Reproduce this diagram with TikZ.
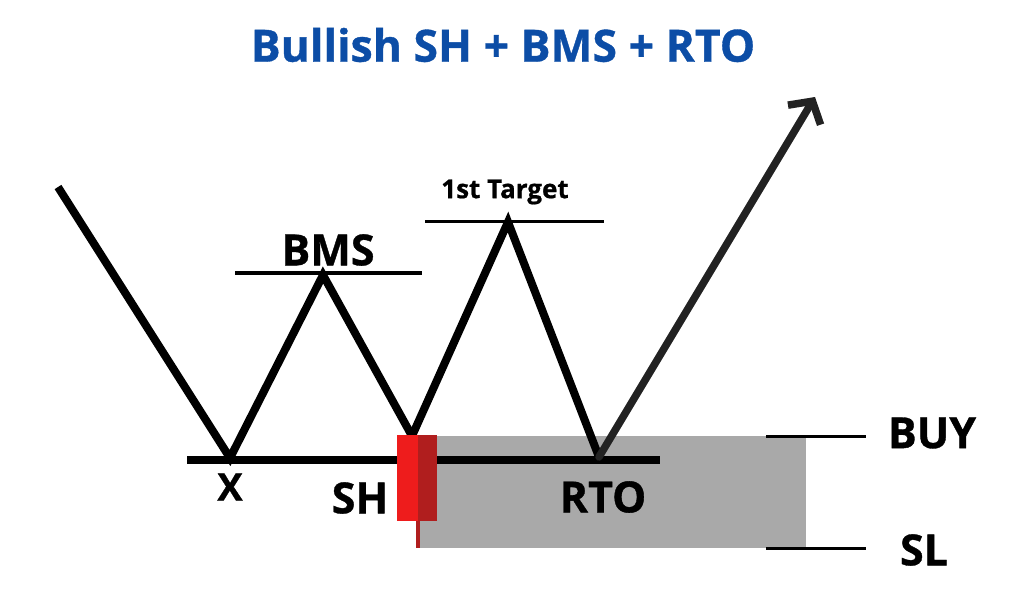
\documentclass[tikz,border=0pt]{standalone}
\usepackage{fontspec}
\setmainfont{Open Sans}[BoldFeatures={FakeBold=0.8}]
\usetikzlibrary{arrows.meta,positioning}
\definecolor{titleblue}{HTML}{0C4DA6}
\definecolor{zonegray}{HTML}{A9A9A9}
\definecolor{candlered}{HTML}{EE1C1C}
\definecolor{candledark}{HTML}{B01E1E}
\definecolor{arrowgray}{HTML}{222222}
\tikzset{zig/.style={draw, line width=8, line join=miter}}
\tikzset{level/.style={draw, line width=4}}
\tikzset{arr/.style={draw, arrowgray, line width=7.5, line cap=round, -{Straight Barb[length=16pt, width=38pt, line width=7.5pt]}}}
\tikzset{lbl/.style={font=\bfseries\fontsize{43}{43}\selectfont, inner sep=0}}

\begin{document}
\begin{tikzpicture}[x=1pt, y=-1pt]
		\useasboundingbox (0,0) rectangle (1024,614);
		\node[lbl, titleblue, font=\bfseries\fontsize{44.5}{44.5}\selectfont] (title) at (503,45){Bullish SH + BMS + RTO};
		
		% zone between buy and stop loss
		\fill[zonegray] (418,436) rectangle (806,548);
		\coordinate (buyL) at (766,436);
		\coordinate (buyR) at (866,436);
		\coordinate (slL) at (766,548);
		\coordinate (slR) at (866,548);
		\draw[level, line width=3] (buyL) -- (buyR);
		\draw[level, line width=3] (slL) -- (slR);
		
		\coordinate (baseL) at (187,460);
		\coordinate (baseR) at (660,460);
		\draw[zig] (baseL) -- (baseR);
		
		\coordinate (start) at (58,187);
		\coordinate (X) at (230,458);
		\coordinate (bms) at (323,275);
		\coordinate (sh) at (412,436);
		\coordinate (tgt) at (508,222);
		\coordinate (rto) at (599,457);
		\coordinate (up) at (815,97);
		
		\draw[level] (235,273) coordinate (bmsL) -- (422,273) coordinate (bmsR);
		\draw[level, line width=3] (425,221) coordinate (tgtL) -- (604,221) coordinate (tgtR);
		
		\draw[zig] (start) -- (X) -- (bms) -- (sh) -- (tgt) -- (rto);
		\draw[arr] (rto) -- (up);
		
		% candle
		\draw[candledark, line width=4] (418,515) coordinate (wickT) -- (418,548) coordinate (wickB);
		\fill[candlered] (397,435) rectangle (418,521);
		\fill[candledark] (418,435) rectangle (437,521);
		
		\node[lbl] (bmsT) at (328,250){BMS};
		\node[lbl, font=\bfseries\fontsize{26}{26}\selectfont] (tgtT) at (505,192){1st Target};
		\node[lbl, font=\bfseries\fontsize{38}{38}\selectfont] (xT) at (230,487){X};
		\node[lbl] (shT) at (360,498){SH};
		\node[lbl] (rtoT) at (603,497){RTO};
		\node[lbl] (buyT) at (932,433){BUY};
		\node[lbl] (slT) at (924,550){SL};
	\end{tikzpicture}
\end{document}
